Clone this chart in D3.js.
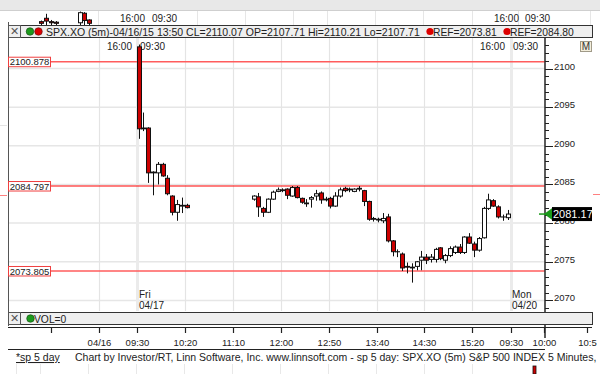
<html>
<head>
<script src="https://d3js.org/d3.v7.min.js"></script>
<style>
body { margin:0; background:#fff; }
text { font-family: "Liberation Sans", Arial, sans-serif; }
</style>
</head>
<body>
<script>
// bar index 0 = Fri 04/17 09:30, 5 minute bars, null = no data
var opens  = [2102.8,2092.2,2092.3,2086.5,2086.5,2087.6,2085.8,2083.5,2081.4,2082.2,2082.3,
  null,null,null,null,null,null,null,null,null,null,null,null,null,
  2083.1,2083.4,2081.9,2081.4,2083.1,2084.1,2084.3,2084.4,2083.5,2084.6,2083.2,2082.6,2083.1,2083.5,2083.9,2083.0,
  2083.2,2082.2,2083.5,2084.5,2084.3,2084.1,2084.5,2084.2,2082.8,2080.6,2080.5,2080.3,2080.8,2077.7,2076.3,2076.0,
  2074.4,2074.2,2074.4,2075.2,2075.6,2075.3,2075.3,2076.8,2075.2,2075.8,2076.2,2076.9,2076.2,2078.2,2077.3,2076.5,
  2078.1,2081.9,2082.9,2082.1,2080.8,2080.7];
var highs  = [2103.1,2094.3,2092.4,2086.7,2087.9,2087.8,2086.2,2083.6,2083.0,2083.3,2082.5,
  null,null,null,null,null,null,null,null,null,null,null,null,null,
  2083.6,2083.9,2082.1,2083.2,2084.2,2084.6,2084.5,2084.5,2084.8,2084.8,2083.3,2083.1,2083.5,2084.3,2084.1,2083.4,
  2083.4,2084.0,2084.6,2084.7,2084.6,2084.5,2084.8,2084.3,2082.9,2080.8,2080.7,2081.3,2081.2,2077.8,2076.6,2076.2,
  2074.9,2074.8,2075.1,2076.4,2076.0,2076.0,2076.8,2076.9,2076.0,2077.0,2077.1,2077.3,2078.3,2078.7,2077.6,2078.2,
  2082.1,2083.8,2083.1,2082.3,2081.1,2081.7];
var lows   = [2090.9,2091.9,2085.2,2083.6,2085.0,2086.0,2083.6,2081.0,2080.3,2081.3,2081.9,
  null,null,null,null,null,null,null,null,null,null,null,null,null,
  2082.9,2080.8,2080.8,2081.3,2083.0,2084.0,2084.0,2083.1,2083.4,2083.2,2082.5,2082.1,2082.0,2082.9,2082.5,2082.8,
  2081.9,2082.1,2083.3,2084.0,2084.0,2084.0,2084.1,2082.2,2080.3,2080.2,2080.1,2080.0,2077.5,2075.7,2075.6,2073.8,
  2073.5,2072.3,2073.9,2073.9,2074.7,2074.9,2074.9,2075.2,2074.8,2075.6,2076.0,2076.0,2076.0,2077.3,2075.6,2076.3,
  2078.0,2081.7,2082.1,2080.6,2080.3,2080.4];
var closes = [2092.2,2092.3,2086.5,2086.6,2087.6,2086.1,2083.8,2081.4,2082.4,2082.3,2082.0,
  null,null,null,null,null,null,null,null,null,null,null,null,null,
  2083.5,2082.1,2081.4,2083.1,2084.0,2084.3,2084.2,2083.6,2084.6,2083.3,2082.7,2082.5,2083.3,2083.8,2083.0,2083.1,
  2082.2,2083.5,2084.3,2084.2,2084.4,2084.4,2084.4,2082.8,2080.5,2080.5,2080.4,2080.6,2077.7,2076.3,2076.3,2074.2,
  2074.3,2074.3,2075.0,2075.6,2075.2,2075.6,2076.6,2075.4,2075.8,2076.7,2076.9,2076.2,2078.2,2077.4,2076.5,2078.0,
  2081.9,2083.0,2082.2,2080.8,2080.8,2081.17];

var refLevels = [2100.878, 2084.797, 2073.805];
var lastPrice = 2081.17;

var timeTickIdx    = [-18, -8, 0, 10, 20, 30, 40, 50, 60, 70, 78, 85, 94];
var timeTickLabels = ["", "04/16", "09:30", "10:20", "11:10", "12:00", "12:50", "13:40", "14:30", "15:20", "09:30", "10:00", "10:5"];
var gridIdx = [-8, 0, 10, 20, 30, 40, 50, 60, 70, 78];
var sessionIdx = [0, 78];
var priceTicks = d3.range(2069, 2104, 1);

// bottom edge of the pane above (only its lowest bars show), bar index on the same 5 min spacing
var upperIdx   = [-20, -19, -18, -17, -12, -11, -10];
var upperOpen  = [2110.6, 2111.2, 2110.6, 2110.5, 2110.4, 2112.1, 2110.9];
var upperClose = [2110.3, 2110.7, 2110.4, 2110.3, 2112.2, 2110.8, 2110.3];
var upperHigh  = [2110.8, 2112.0, 2110.9, 2110.7, 2112.4, 2112.3, 2111.0];
var upperLow   = [2110.0, 2110.0, 2110.0, 2110.0, 2110.0, 2110.0, 2110.0];

var headerText = "SPX.XO (5m)-04/16/15 13:50 CL=2110.07 OP=2107.71 Hi=2110.21 Lo=2107.71";
var refTexts = ["REF=2073.81", "REF=2084.80"];
var footerText = "Chart by Investor/RT, Linn Software, Inc. www.linnsoft.com - sp 5 day: SPX.XO (5m) S&P 500 INDEX 5 Minutes,";

var width = 600, height = 374;
var left = 8, axisX = 545, right = 592;
var plotTop = 37, plotBottom = 311;

var x = d3.scaleLinear().domain([0, 78]).range([137, 137 + 78 * 4.79]);
var y = d3.scaleLinear().domain([2070, 2100]).range([300.4, 68.5]);
var yUp = d3.scaleLinear().domain([2110, 2112.5]).range([25, 11]);

var svg = d3.select("body").append("svg")
    .attr("width", width)
    .attr("height", height);

// top strip (neighbour pane)
svg.append("rect").attr("x", 0).attr("y", 0).attr("width", width).attr("height", 10).attr("fill", "#e8e8e8");
svg.append("line").attr("x1", 0).attr("x2", width).attr("y1", 10.5).attr("y2", 10.5).attr("stroke", "#cfcfcf");
[98, 197, 245, 293, 327, 375, 423, 472, 518, 590].forEach(function(d) {
  svg.append("line").attr("x1", d + .5).attr("x2", d + .5).attr("y1", 11).attr("y2", 25)
    .attr("stroke", "#e6e6e6");
});
var ub = svg.append("g").selectAll("g").data(d3.range(upperIdx.length)).enter().append("g");
ub.append("line")
  .attr("x1", function(i) { return Math.round(x(upperIdx[i])) + .5; })
  .attr("x2", function(i) { return Math.round(x(upperIdx[i])) + .5; })
  .attr("y1", function(i) { return yUp(upperHigh[i]); })
  .attr("y2", function(i) { return yUp(upperLow[i]); })
  .attr("stroke", "#111");
ub.append("rect")
  .attr("x", function(i) { return Math.round(x(upperIdx[i])) - 1.5; })
  .attr("y", function(i) { return yUp(Math.max(upperOpen[i], upperClose[i])); })
  .attr("width", 4)
  .attr("height", function(i) { return Math.abs(yUp(upperOpen[i]) - yUp(upperClose[i])); })
  .attr("fill", function(i) { return upperClose[i] < upperOpen[i] ? "#cc0000" : "#fff"; })
  .attr("stroke", "#111");
var topStrip = svg.append("g").attr("font-size", 10).attr("fill", "#222");
topStrip.append("text").attr("x", 145).attr("y", 22).attr("text-anchor", "end").text("16:00");
topStrip.append("text").attr("x", 152).attr("y", 22).text("09:30");
topStrip.append("text").attr("x", 519).attr("y", 22).attr("text-anchor", "end").text("16:00");
topStrip.append("text").attr("x", 525).attr("y", 22).text("09:30");

// main pane grid
svg.append("g").selectAll("line")
  .data(d3.range(2070, 2101, 5))
  .enter().append("line")
  .attr("x1", left).attr("x2", axisX)
  .attr("y1", function(d) { return y(d); })
  .attr("y2", function(d) { return y(d); })
  .attr("stroke", "#e6e6e6").attr("stroke-width", 1.5);

svg.append("g").selectAll("line")
  .data(gridIdx)
  .enter().append("line")
  .attr("x1", function(d) { return Math.round(x(d)) + .5; })
  .attr("x2", function(d) { return Math.round(x(d)) + .5; })
  .attr("y1", plotTop).attr("y2", plotBottom)
  .attr("stroke", function(d) { return sessionIdx.indexOf(d) >= 0 ? "#ebebeb" : "#e4e4e4"; })
  .attr("stroke-width", function(d) { return sessionIdx.indexOf(d) >= 0 ? 3 : 1.2; });

// left border of the pane, and edge of the pane at the left
svg.append("line").attr("x1", left + .5).attr("x2", left + .5).attr("y1", 22).attr("y2", 326)
  .attr("stroke", "#555");
svg.append("line").attr("x1", 0).attr("x2", 7).attr("y1", 125.5).attr("y2", 125.5).attr("stroke", "#e4e4e4");
svg.append("line").attr("x1", 0).attr("x2", 7).attr("y1", 195.5).attr("y2", 195.5).attr("stroke", "#ff8080");
svg.append("line").attr("x1", 593).attr("x2", 600).attr("y1", 194.5).attr("y2", 194.5).attr("stroke", "#ff8080");

// reference lines
svg.append("g").selectAll("line")
  .data(refLevels)
  .enter().append("line")
  .attr("x1", left).attr("x2", axisX)
  .attr("y1", function(d) { return y(d); })
  .attr("y2", function(d) { return y(d); })
  .attr("stroke", function(d, i) { return i == 1 ? "#ff0000" : "#ff5c5c"; })
  .attr("stroke-width", function(d, i) { return i == 1 ? 1.2 : 1.6; });

var refLabel = svg.append("g").selectAll("g")
  .data(refLevels)
  .enter().append("g")
  .attr("transform", function(d) { return "translate(" + (left + .5) + "," + (y(d) - 4.5) + ")"; });
refLabel.append("rect")
  .attr("width", 42).attr("height", 9.5)
  .attr("fill", "#fff").attr("stroke", "#f04040");
refLabel.append("text")
  .attr("x", 21).attr("y", 8.2)
  .attr("text-anchor", "middle")
  .attr("font-size", 9.5).attr("fill", "#222")
  .text(function(d) { return d3.format(".3f")(d); });

// session labels
var sess = svg.append("g").attr("font-size", 10).attr("fill", "#222");
sess.append("text").attr("x", 132).attr("y", 50).attr("text-anchor", "end").text("16:00");
sess.append("text").attr("x", 140).attr("y", 50).text("09:30");
sess.append("text").attr("x", 505).attr("y", 50).attr("text-anchor", "end").text("16:00");
sess.append("text").attr("x", 513).attr("y", 50).text("09:30");
sess.append("text").attr("x", 139).attr("y", 298).text("Fri");
sess.append("text").attr("x", 139).attr("y", 309).text("04/17");
sess.append("text").attr("x", 512).attr("y", 298).text("Mon");
sess.append("text").attr("x", 512).attr("y", 309).text("04/20");

// candles
var bars = d3.range(opens.length).filter(function(i) { return opens[i] != null; });
var cx = function(i) { return Math.round(x(i) + 1.7); };
var candle = svg.append("g").selectAll("g")
  .data(bars)
  .enter().append("g");
candle.append("line")
  .attr("x1", function(i) { return cx(i) + .5; })
  .attr("x2", function(i) { return cx(i) + .5; })
  .attr("y1", function(i) { return y(highs[i]); })
  .attr("y2", function(i) { return y(lows[i]); })
  .attr("stroke", "#111").attr("stroke-width", 1);
candle.append("rect")
  .attr("x", function(i) { return cx(i) - 1.5; })
  .attr("y", function(i) { return y(Math.max(opens[i], closes[i])); })
  .attr("width", 4)
  .attr("height", function(i) { return Math.max(0.1, Math.abs(y(opens[i]) - y(closes[i]))); })
  .attr("fill", function(i) { return closes[i] < opens[i] ? "#cc0000" : "#fff"; })
  .attr("stroke", "#111").attr("stroke-width", 1);

// right price axis
svg.append("line").attr("x1", axisX).attr("x2", axisX).attr("y1", plotTop).attr("y2", 338)
  .attr("stroke", "#333").attr("stroke-width", 1.6);
svg.append("g").selectAll("line")
  .data(priceTicks)
  .enter().append("line")
  .attr("x1", axisX)
  .attr("x2", function(d) { return d % 5 == 0 ? axisX + 8 : axisX + 4; })
  .attr("y1", function(d) { return Math.round(y(d)) + .5; })
  .attr("y2", function(d) { return Math.round(y(d)) + .5; })
  .attr("stroke", "#222");
svg.append("g").selectAll("text")
  .data(priceTicks.filter(function(d) { return d % 5 == 0; }))
  .enter().append("text")
  .attr("x", axisX + 9)
  .attr("y", function(d) { return y(d) + 1; })
  .attr("font-size", 9.5).attr("fill", "#222")
  .text(function(d) { return d; });

// M button
svg.append("rect").attr("x", 580.5).attr("y", 41.5).attr("width", 11).attr("height", 10)
  .attr("fill", "#f3eedc").attr("stroke", "#a09a88");
svg.append("text").attr("x", 586).attr("y", 50).attr("text-anchor", "middle")
  .attr("font-size", 10).attr("fill", "#333").text("M");

// last price marker (covers the top of the 2080 label, as in the original)
var lp = svg.append("g").attr("transform", "translate(0," + y(lastPrice) + ")");
lp.append("line").attr("x1", 539).attr("x2", 547).attr("y1", 0).attr("y2", 0)
  .attr("stroke", "#1a9a1a").attr("stroke-width", 1.5);
lp.append("path").attr("d", "M544,0L553,-6.5L553,6.5Z").attr("fill", "#1a9a1a");
lp.append("rect").attr("x", 552).attr("y", -7).attr("width", 40).attr("height", 14).attr("fill", "#000");
lp.append("text").attr("x", 553).attr("y", 4).attr("font-size", 11).attr("fill", "#fff")
  .text(d3.format(".2f")(lastPrice));

// header bar of the price pane
svg.append("rect").attr("x", left + .5).attr("y", 25.5).attr("width", right - left).attr("height", 12)
  .attr("fill", "#efefef").attr("stroke", "#333");
svg.append("rect").attr("x", left + .5).attr("y", 25.5).attr("width", 12).attr("height", 12)
  .attr("fill", "none").attr("stroke", "#555");
svg.append("text").attr("x", 14.5).attr("y", 35).attr("text-anchor", "middle")
  .attr("font-size", 11).attr("fill", "#555").text("✕");
svg.append("circle").attr("cx", 30).attr("cy", 31.5).attr("r", 3.8).attr("fill", "#1d9a1d").attr("stroke", "#114411").attr("stroke-width", .6);
svg.append("circle").attr("cx", 38.5).attr("cy", 31.5).attr("r", 3.8).attr("fill", "#dd0000").attr("stroke", "#551111").attr("stroke-width", .6);
svg.append("text").attr("x", 46).attr("y", 35.5).attr("font-size", 10.5).attr("fill", "#222")
  .text(headerText);
var refDotX = [430, 507];
refTexts.forEach(function(t, i) {
  svg.append("circle").attr("cx", refDotX[i]).attr("cy", 31.5).attr("r", 3.6).attr("fill", "#dd0000");
  svg.append("text").attr("x", refDotX[i] + 3).attr("y", 35.5).attr("font-size", 10.3).attr("fill", "#222").text(t);
});

// volume pane header
svg.append("rect").attr("x", left + .5).attr("y", 312.5).attr("width", right - left).attr("height", 12)
  .attr("fill", "#efefef").attr("stroke", "#333");
svg.append("rect").attr("x", left + .5).attr("y", 312.5).attr("width", 12).attr("height", 12)
  .attr("fill", "none").attr("stroke", "#555");
svg.append("text").attr("x", 14.5).attr("y", 322).attr("text-anchor", "middle")
  .attr("font-size", 11).attr("fill", "#555").text("✕");
svg.append("circle").attr("cx", 30.5).attr("cy", 318.5).attr("r", 3.8).attr("fill", "#1d9a1d").attr("stroke", "#114411").attr("stroke-width", .6);
svg.append("text").attr("x", 34).attr("y", 322.5).attr("font-size", 10.3).attr("fill", "#222").text("VOL=0");

// time axis
svg.append("line").attr("x1", left).attr("x2", right).attr("y1", 327.5).attr("y2", 327.5)
  .attr("stroke", "#222").attr("stroke-width", 1.2);
var tAxis = svg.append("g").selectAll("g")
  .data(timeTickIdx)
  .enter().append("g")
  .attr("transform", function(d) { return "translate(" + (Math.round(x(d)) + .5) + ",0)"; });
tAxis.append("line").attr("y1", 327).attr("y2", 333).attr("stroke", "#222").attr("stroke-width", 1.2);
tAxis.append("text")
  .attr("y", 346).attr("text-anchor", "middle")
  .attr("font-size", 9.5).attr("fill", "#222")
  .text(function(d, i) { return timeTickLabels[i]; });
svg.append("line").attr("x1", left).attr("x2", axisX).attr("y1", 349.5).attr("y2", 349.5)
  .attr("stroke", "#222");

// footer
svg.append("text").attr("x", 16).attr("y", 361).attr("font-size", 10.5).attr("fill", "#222")
  .attr("text-decoration", "underline").text("*sp 5 day");
svg.append("text").attr("x", 75).attr("y", 361).attr("font-size", 10.5).attr("fill", "#222")
  .text(footerText);

// neighbour pane below
[16, 40, 88, 136, 184, 232, 280, 328, 376, 424, 472].forEach(function(d) {
  svg.append("line").attr("x1", d + .5).attr("x2", d + .5).attr("y1", 364).attr("y2", 374)
    .attr("stroke", "#e8e8e8");
});
svg.append("rect").attr("x", 533).attr("y", 366).attr("width", 3).attr("height", 8)
  .attr("fill", "#cc0000").attr("stroke", "#111").attr("stroke-width", .8);
</script>
</body>
</html>
